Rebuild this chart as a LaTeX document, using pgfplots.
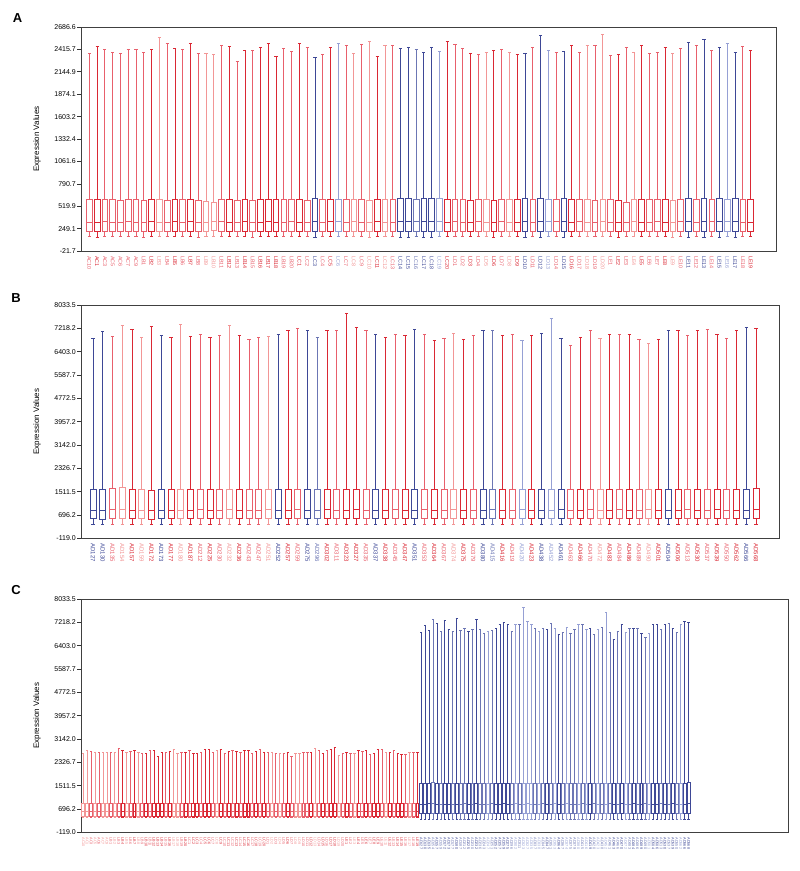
\documentclass[border=0pt]{standalone}
\usepackage{pgfplots}
\usepackage{pgfplotstable}
\usepgfplotslibrary{statistics}
\pgfplotsset{compat=1.18}
\usepackage{fontspec}
\setmainfont{Liberation Sans}
\definecolor{ra}{RGB}{218,40,52}
\definecolor{rb}{RGB}{232,96,108}
\definecolor{rc}{RGB}{242,150,150}
\definecolor{ba}{RGB}{62,72,150}
\definecolor{bb}{RGB}{150,160,212}
\definecolor{bc}{RGB}{108,118,180}

\pgfplotstableread{
name lw q1 med q3 uw c
AC10 150 213 330 597 2371 rb
AC1 148 212 328 600 2451 ra
AC3 152 214 332 604 2419 rb
AC5 150 213 330 598 2379 rb
AC6 149 212 329 596 2371 rb
AC7 151 214 331 601 2419 rb
AC9 150 213 330 597 2419 rb
LB1 148 211 327 594 2379 rb
LB2 152 215 333 603 2411 ra
LB3 150 213 330 599 2558 rc
LB4 149 212 328 595 2483 rb
LB5 151 214 331 600 2431 ra
LB6 150 213 329 598 2411 rb
LB7 152 215 332 605 2491 ra
LB8 148 212 328 596 2371 rb
LB9 150 213 330 580 2363 rc
LB10 150 222 331 570 2351 rc
LB11 151 214 331 599 2459 rb
LB12 149 212 329 597 2451 ra
LB13 150 213 330 596 2271 rb
LB14 152 215 332 602 2399 ra
LB15 148 211 327 594 2403 rb
LB16 150 213 330 598 2443 ra
LB17 151 214 331 600 2491 ra
LB18 149 212 329 597 2331 ra
LB19 150 213 330 599 2431 rb
LB20 152 214 332 603 2395 rb
LC1 150 213 330 598 2491 ra
LC2 149 212 329 596 2439 rb
LC3 148 210 334 610 2323 ba
LC4 150 213 330 597 2351 rb
LC5 151 214 331 600 2443 ra
LC6 149 211 333 606 2491 bb
LC7 150 213 330 598 2467 rb
LC8 152 215 332 602 2371 rc
LC9 150 213 330 597 2471 rb
LC10 148 212 328 595 2511 rc
LC11 151 214 331 601 2331 ra
LC12 150 213 330 599 2467 rc
LC13 149 212 329 597 2467 rb
LC14 147 210 335 612 2423 ba
LC15 148 211 336 610 2440 ba
LC16 149 212 334 608 2420 bc
LC17 147 210 336 614 2380 ba
LC18 148 211 335 611 2440 ba
LC19 149 212 334 609 2390 bb
LC20 150 213 330 598 2510 ra
LD1 151 214 331 600 2480 rb
LD2 150 213 330 597 2430 rb
LD3 149 212 329 596 2370 ra
LD4 152 215 332 603 2360 rb
LD5 150 213 330 598 2380 rc
LD6 148 211 328 595 2400 ra
LD7 151 214 331 601 2420 rb
LD8 150 213 330 599 2380 rc
LD9 149 212 329 597 2350 ra
LD10 148 210 335 610 2370 ba
LD11 150 213 330 598 2440 rb
LD12 147 210 336 612 2580 ba
LD13 149 211 334 608 2400 bb
LD14 151 214 331 600 2380 rb
LD15 148 211 335 609 2390 ba
LD16 150 213 330 597 2470 ra
LD17 152 215 332 603 2380 rb
LD18 150 213 330 598 2470 rc
LD19 149 212 329 596 2460 rb
LD20 151 214 331 601 2600 rc
LE1 150 213 330 598 2340 rb
LE2 148 211 328 594 2360 ra
LE3 150 213 330 560 2440 rb
LE4 151 214 331 600 2380 rc
LE5 150 213 330 599 2460 ra
LE6 149 212 329 597 2370 rb
LE7 152 215 332 603 2380 rb
LE8 150 213 330 598 2440 ra
LE9 148 211 328 595 2370 rc
LE10 151 214 331 600 2430 rb
LE11 148 210 335 610 2500 ba
LE12 150 213 330 598 2470 rb
LE13 147 210 336 612 2540 ba
LE14 151 214 331 601 2400 rb
LE15 148 211 335 609 2440 ba
LE16 149 212 334 608 2490 bb
LE17 147 210 336 611 2380 ba
LE18 150 213 330 598 2450 rb
LE19 149 212 329 597 2400 ra
}\tblA

\pgfplotstableread{
name lw q1 med q3 uw c
AD127 370 566 870 1593 6868 ba
AD130 362 556 862 1580 7113 ba
AD135 372 568 878 1610 6938 rb
AD154 375 572 890 1663 7335 rc
AD157 368 562 866 1590 7171 ra
AD159 370 565 872 1595 6903 rc
AD172 360 550 860 1570 7288 ra
AD173 372 568 870 1600 6985 ba
AD177 366 560 866 1588 6903 ra
AD180 370 566 872 1596 7358 rc
AD187 368 562 868 1592 6938 ra
AD212 372 568 874 1600 6996 rb
AD225 366 560 866 1588 6903 ra
AD230 370 565 870 1596 6962 rb
AD232 374 570 876 1605 7335 rc
AD236 368 562 866 1590 6985 ra
AD243 370 566 872 1594 6821 rb
AD247 366 560 864 1586 6891 rb
AD251 372 568 874 1600 6938 rc
AD252 370 566 870 1596 7020 ba
AD257 368 562 868 1592 7136 ra
AD259 372 568 874 1602 7230 rb
AD275 370 565 870 1596 7160 ba
AD296 366 560 866 1588 6903 bc
AD302 372 568 874 1600 7148 ra
AD311 368 562 868 1590 7136 rb
AD323 370 566 870 1596 7755 ra
AD327 372 568 874 1602 7253 ra
AD335 366 560 866 1588 7160 rb
AD337 370 565 872 1596 7020 ba
AD338 368 562 868 1592 6903 ra
AD345 374 570 876 1605 7020 rb
AD347 370 566 870 1596 6985 ra
AD351 366 560 866 1588 7195 ba
AD353 372 568 874 1600 7008 rb
AD364 368 562 868 1592 6810 ra
AD367 370 566 870 1596 6868 rb
AD374 372 568 874 1602 7055 rc
AD375 366 560 866 1588 6845 ra
AD379 370 565 870 1596 6962 rb
AD380 368 562 868 1590 7160 ba
AD415 372 568 874 1600 7160 bc
AD416 370 566 870 1596 6985 ra
AD419 366 560 866 1588 7020 rb
AD420 372 568 874 1602 6786 bb
AD423 368 562 868 1592 6985 ra
AD438 370 566 870 1596 7055 ba
AD452 366 560 866 1588 7568 bb
AD461 372 568 874 1600 6868 ba
AD463 370 565 870 1596 6635 rb
AD466 368 562 868 1590 6903 ra
AD470 374 570 876 1605 7160 rb
AD472 370 566 870 1596 6880 rc
AD483 366 560 866 1588 7020 ra
AD484 372 568 874 1600 6996 rb
AD486 368 562 868 1592 6996 ra
AD489 370 566 870 1596 6833 rb
AD490 372 568 874 1602 6705 rc
AD501 366 560 866 1588 6845 ra
AD504 370 565 870 1596 7136 ba
AD506 368 562 868 1590 7148 ra
AD513 372 568 874 1600 6985 rb
AD530 370 566 870 1596 7136 ra
AD537 366 560 866 1588 7171 rb
AD539 372 568 874 1602 6996 ra
AD550 368 562 868 1592 6868 rb
AD562 370 566 870 1596 7136 ra
AD566 366 560 866 1588 7253 ba
AD568 372 568 880 1640 7200 ra
}\tblB

\pgfplotstableread{
name lw q1 med q3 uw c
AC10 400 440 620 890 2645 rc
AC1 400 440 620 890 2726 rc
AC3 400 440 620 890 2703 rb
AC5 400 440 620 890 2668 rc
AC6 400 440 620 890 2668 rb
AC7 400 440 620 890 2680 rc
AC9 400 440 620 890 2680 rc
LB1 400 440 620 890 2668 rb
LB2 400 440 620 890 2680 rc
LB3 400 440 620 890 2820 rb
LB4 400 440 620 890 2726 ra
LB5 400 440 620 890 2668 rc
LB6 400 440 620 890 2703 rb
LB7 400 440 620 890 2738 ra
LB8 400 440 620 890 2668 rc
LB9 400 440 620 890 2645 rb
LB10 400 440 620 890 2645 ra
LB11 400 440 620 890 2726 rb
LB12 400 440 620 890 2726 ra
LB13 400 440 620 890 2528 ra
LB14 400 440 620 890 2680 ra
LB15 400 440 620 890 2680 rb
LB16 400 440 620 890 2703 ra
LB17 400 440 620 890 2761 rc
LB18 400 440 620 890 2621 rc
LB19 400 440 620 890 2680 rb
LB20 400 440 620 890 2668 ra
LC1 400 440 620 890 2738 rb
LC2 400 440 620 890 2621 ra
LC3 400 440 620 890 2621 ra
LC4 400 440 620 890 2668 rb
LC5 400 440 620 890 2761 ra
LC6 400 440 620 890 2761 ra
LC7 400 440 620 890 2680 rb
LC8 400 440 620 890 2726 rc
LC9 400 440 620 890 2785 ra
LC10 400 440 620 890 2621 rb
LC11 400 440 620 890 2703 ra
LC12 400 440 620 890 2738 rb
LC13 400 440 620 890 2703 ra
LC14 400 440 620 890 2680 rb
LC15 400 440 620 890 2726 ra
LC16 400 440 620 890 2738 ra
LC17 400 440 620 890 2621 rb
LC18 400 440 620 890 2703 ra
LC19 400 440 620 890 2785 rb
LC20 400 440 620 890 2680 ra
LD1 400 440 620 890 2680 rb
LD2 400 440 620 890 2680 rc
LD3 400 440 620 890 2645 rb
LD4 400 440 620 890 2621 rc
LD5 400 440 620 890 2645 rb
LD6 400 440 620 890 2668 ra
LD7 400 440 620 890 2528 rb
LD8 400 440 620 890 2645 rc
LD9 400 440 620 890 2645 rc
LD10 400 440 620 890 2680 rb
LD11 400 440 620 890 2668 rb
LD12 400 440 620 890 2668 ra
LD13 400 440 620 890 2796 rc
LD14 400 440 620 890 2738 rb
LD15 400 440 620 890 2645 ra
LD16 400 440 620 890 2738 rb
LD17 400 440 620 890 2761 ra
LD18 400 440 620 890 2843 ra
LD19 400 440 620 890 2563 rc
LD20 400 440 620 890 2645 rb
LE1 400 440 620 890 2680 ra
LE2 400 440 620 890 2645 rb
LE3 400 440 620 890 2645 rc
LE4 400 440 620 890 2726 ra
LE5 400 440 620 890 2703 rb
LE6 400 440 620 890 2726 ra
LE7 400 440 620 890 2586 rb
LE8 400 440 620 890 2645 ra
LE9 400 440 620 890 2761 ra
LE10 400 440 620 890 2785 rb
LE11 400 440 620 890 2680 rc
LE12 400 440 620 890 2668 ra
LE13 400 440 620 890 2726 rb
LE14 400 440 620 890 2645 ra
LE15 400 440 620 890 2586 ra
LE16 400 440 620 890 2586 rb
LE17 400 440 620 890 2668 rc
LE18 400 440 620 890 2668 rb
LE19 400 440 620 890 2680 ra
AD127 334 544 870 1595 6868 ba
AD130 334 544 862 1590 7113 ba
AD135 334 544 878 1600 6938 ba
AD154 334 544 890 1620 7335 bc
AD157 334 544 866 1595 7171 ba
AD159 334 544 872 1595 6903 bc
AD172 334 544 860 1590 7288 ba
AD173 334 544 870 1600 6985 ba
AD177 334 544 866 1595 6903 bc
AD180 334 544 872 1595 7358 ba
AD187 334 544 868 1592 6938 bc
AD212 334 544 874 1600 6996 bc
AD225 334 544 866 1590 6903 ba
AD230 334 544 870 1596 6962 bc
AD232 334 544 876 1605 7335 ba
AD236 334 544 866 1590 6985 bc
AD243 334 544 872 1594 6821 bc
AD247 334 544 864 1586 6891 bb
AD251 334 544 874 1600 6938 bc
AD252 334 544 870 1596 7020 ba
AD257 334 544 868 1592 7136 ba
AD259 334 544 874 1602 7230 ba
AD275 334 544 870 1596 7160 ba
AD296 334 544 866 1588 6903 bc
AD302 334 544 874 1600 7148 bb
AD311 334 544 868 1590 7136 bc
AD323 334 544 870 1596 7755 bb
AD327 334 544 874 1602 7253 bb
AD335 334 544 866 1588 7160 bb
AD337 334 544 872 1596 7020 bc
AD338 334 544 868 1592 6903 bb
AD345 334 544 876 1605 7020 bc
AD347 334 544 870 1596 6985 ba
AD351 334 544 866 1588 7195 bc
AD353 334 544 874 1600 7008 bb
AD364 334 544 868 1592 6810 ba
AD367 334 544 870 1596 6868 bc
AD374 334 544 874 1602 7055 bb
AD375 334 544 866 1588 6845 bc
AD379 334 544 870 1596 6962 bc
AD380 334 544 868 1590 7160 bb
AD415 334 544 874 1600 7160 bc
AD416 334 544 870 1596 6985 bb
AD419 334 544 866 1588 7020 ba
AD420 334 544 874 1602 6786 bc
AD423 334 544 868 1592 6985 bb
AD438 334 544 870 1596 7055 bc
AD452 334 544 866 1588 7568 bb
AD461 334 544 874 1600 6868 bc
AD463 334 544 870 1596 6635 ba
AD466 334 544 868 1590 6903 bc
AD470 334 544 876 1605 7160 ba
AD472 334 544 870 1596 6880 bb
AD483 334 544 866 1588 7020 bc
AD484 334 544 874 1600 6996 ba
AD486 334 544 868 1592 6996 bc
AD489 334 544 870 1596 6833 ba
AD490 334 544 874 1602 6705 bc
AD501 334 544 866 1588 6845 bb
AD504 334 544 870 1596 7136 ba
AD506 334 544 868 1590 7148 ba
AD513 334 544 874 1600 6985 bc
AD530 334 544 870 1596 7136 ba
AD537 334 544 866 1588 7171 bc
AD539 334 544 874 1602 6996 ba
AD550 334 544 868 1592 6868 bc
AD562 334 544 870 1596 7136 bb
AD566 334 544 866 1588 7253 ba
AD568 334 544 880 1620 7200 ba
}\tblC

\newcommand\drawboxes[4]{%
  \pgfplotsforeachungrouped \i in {0,...,#2}{%
    \pgfplotstablegetelem{\i}{lw}\of#1\let\vlw\pgfplotsretval
    \pgfplotstablegetelem{\i}{q1}\of#1\let\vqa\pgfplotsretval
    \pgfplotstablegetelem{\i}{med}\of#1\let\vmd\pgfplotsretval
    \pgfplotstablegetelem{\i}{q3}\of#1\let\vqb\pgfplotsretval
    \pgfplotstablegetelem{\i}{uw}\of#1\let\vuw\pgfplotsretval
    \pgfplotstablegetelem{\i}{c}\of#1\let\vc\pgfplotsretval
    \edef\temp{\noexpand\addplot[color=\vc, solid, line width=0.8pt,
      boxplot prepared={draw position=\i, lower whisker=\vlw,
        lower quartile=\vqa, median=\vmd, upper quartile=\vqb,
        upper whisker=\vuw, box extend=#3, whisker extend=#4}]
      coordinates {};}%
    \temp
  }%
}
\newcommand\getlab[1]{\pgfplotstablegetelem{\ticknum}{c}\of#1\let\lc\pgfplotsretval\pgfplotstablegetelem{\ticknum}{name}\of#1\textcolor{\lc}{\pgfplotsretval}}

\pgfplotsset{
  panel/.style={
    scale only axis, anchor=south west,
    boxplot/draw direction=y,
    axis line style={black!75, line width=0.6pt},
    tick align=outside, ytick pos=left, major tick length=4pt,
    xtick style={draw=none},
    ytick style={black!80, line width=0.6pt},
    yticklabel style={font=\fontsize{7}{8}\selectfont, inner sep=1pt},
    xticklabel style={rotate=-90, anchor=west, inner sep=1pt},
    ylabel={Expression Values},
    every axis y label/.style={at={([xshift=-44pt]axis description cs:0,0.5)}, rotate=90, anchor=center, font=\fontsize{8}{9}\selectfont},
  },
  bcticks/.style={
    ymin=-119.0, ymax=8033.5,
    ytick={-119.0,696.2,1511.5,2326.7,3142.0,3957.2,4772.5,5587.7,6403.0,7218.2,8033.5},
    yticklabels={-119.0,696.2,1511.5,2326.7,3142.0,3957.2,4772.5,5587.7,6403.0,7218.2,8033.5},
  }
}

\begin{document}
\begin{tikzpicture}
\useasboundingbox (0,0) rectangle (800pt,871pt);
\node[font=\bfseries\fontsize{13}{14}\selectfont] at (17.5pt,853pt) {A};
\node[font=\bfseries\fontsize{13}{14}\selectfont] at (16pt,573pt) {B};
\node[font=\bfseries\fontsize{13}{14}\selectfont] at (16pt,281pt) {C};

% Panel A
\begin{axis}[panel, at={(81pt,620pt)}, width=695pt, height=224pt,
  xmin=-1.07, xmax=88.26, ymin=-21.7, ymax=2686.6,
  ytick={-21.7,249.1,519.9,790.7,1061.6,1332.4,1603.2,1874.1,2144.9,2415.7,2686.6},
  yticklabels={-21.7,249.1,519.9,790.7,1061.6,1332.4,1603.2,1874.1,2144.9,2415.7,2686.6},
  xtick={0,...,85}, xticklabel={\getlab{\tblA}},
  xticklabel style={font=\fontsize{5.4}{6}\selectfont}]
\drawboxes{\tblA}{85}{0.73}{0.4}
\end{axis}

% Panel B
\begin{axis}[panel, bcticks, at={(81pt,332.7pt)}, width=698pt, height=233.3pt,
  xmin=-1.23, xmax=70.36,
  xtick={0,...,68}, xticklabel={\getlab{\tblB}},
  xticklabel style={font=\fontsize{6}{7}\selectfont}]
\drawboxes{\tblB}{68}{0.62}{0.32}
\end{axis}

% Panel C
\begin{axis}[panel, bcticks, at={(81pt,38.7pt)}, width=707pt, height=233.3pt,
  xmin=-0.59, xmax=179.3,
  xtick={0,...,154}, xticklabel={\getlab{\tblC}},
  xticklabel style={font=\fontsize{3.8}{4}\selectfont}]
\drawboxes{\tblC}{154}{0.75}{0.6}
\end{axis}
\end{tikzpicture}
\end{document}
